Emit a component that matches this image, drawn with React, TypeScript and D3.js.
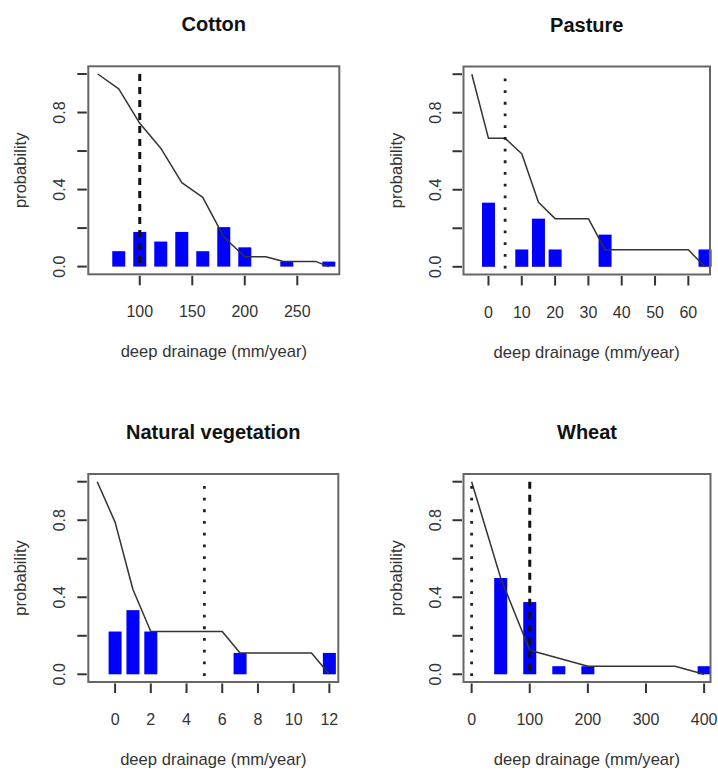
import React from "react";
import * as d3 from "d3";

// ---------- data ----------
const cottonBarX = [80, 100, 120, 140, 160, 180, 200, 240, 280];
const cottonBarP = [0.08, 0.18, 0.13, 0.18, 0.08, 0.205, 0.1, 0.026, 0.026];
const cottonLineX = [60, 80, 100, 120, 140, 160, 180, 200, 220, 237, 268, 280];
const cottonLineP = [1.0, 0.923, 0.744, 0.615, 0.436, 0.359, 0.154, 0.051, 0.051, 0.026, 0.026, 0.0];
const cottonTicks = [100, 150, 200, 250];

const pastureBarX = [0, 10, 15, 20, 35, 65];
const pastureBarP = [0.333, 0.09, 0.25, 0.09, 0.167, 0.09];
const pastureLineX = [-5, 0, 5, 10, 15, 20, 30, 35, 60, 65];
const pastureLineP = [1.0, 0.667, 0.667, 0.587, 0.335, 0.25, 0.25, 0.088, 0.088, 0.0];
const pastureTicks = [0, 10, 20, 30, 40, 50, 60];

const natvegBarX = [0, 1, 2, 7, 12];
const natvegBarP = [0.222, 0.333, 0.222, 0.111, 0.111];
const natvegLineX = [-1, 0, 1, 2, 6, 7, 11, 12];
const natvegLineP = [1.0, 0.79, 0.44, 0.222, 0.222, 0.111, 0.111, 0.0];
const natvegTicks = [0, 2, 4, 6, 8, 10, 12];

const wheatBarX = [50, 100, 150, 200, 400];
const wheatBarP = [0.5, 0.375, 0.042, 0.042, 0.042];
const wheatLineX = [0, 50, 100, 150, 200, 350, 400];
const wheatLineP = [1.0, 0.5, 0.125, 0.083, 0.042, 0.042, 0.0];
const wheatTicks = [0, 100, 200, 300, 400];

const yTicks = [0, 0.2, 0.4, 0.6, 0.8, 1.0];
const yTickLabels = ["0.0", "", "0.4", "", "0.8", ""];

const titles = ["Cotton", "Pasture", "Natural vegetation", "Wheat"];
const xLabel = "deep drainage (mm/year)";
const yLabel = "probability";

// reference lines: [x, type]
const cottonRefs: [number, string][] = [[100, "dashed"]];
const pastureRefs: [number, string][] = [[5, "dotted"]];
const natvegRefs: [number, string][] = [[5, "dotted"]];
const wheatRefs: [number, string][] = [[0, "dotted"], [100, "dashed"]];

// ---------- layout ----------
const FONT = "'Liberation Sans', Arial, Helvetica, sans-serif";
const BOX_H = 208;

type PanelDef = {
  title: string;
  left: number;
  top: number;
  width: number;
  xDomain: [number, number];
  ticks: number[];
  barX: number[];
  barP: number[];
  lineX: number[];
  lineP: number[];
  refs: [number, string][];
};

const panels: PanelDef[] = [
  { title: titles[0], left: 88.3, top: 66.3, width: 251, xDomain: [51, 290], ticks: cottonTicks, barX: cottonBarX, barP: cottonBarP, lineX: cottonLineX, lineP: cottonLineP, refs: cottonRefs },
  { title: titles[1], left: 463.5, top: 66.5, width: 246.5, xDomain: [-7.5, 66.5], ticks: pastureTicks, barX: pastureBarX, barP: pastureBarP, lineX: pastureLineX, lineP: pastureLineP, refs: pastureRefs },
  { title: titles[2], left: 88.3, top: 474, width: 250, xDomain: [-1.5, 12.5], ticks: natvegTicks, barX: natvegBarX, barP: natvegBarP, lineX: natvegLineX, lineP: natvegLineP, refs: natvegRefs },
  { title: titles[3], left: 463.5, top: 474, width: 247, xDomain: [-14, 411], ticks: wheatTicks, barX: wheatBarX, barP: wheatBarP, lineX: wheatLineX, lineP: wheatLineP, refs: wheatRefs },
];

function Panel({ p }: { p: PanelDef }) {
  const x = d3.scaleLinear().domain(p.xDomain).range([p.left, p.left + p.width]);
  const y = d3.scaleLinear().domain([-0.04, 1.04]).range([p.top + BOX_H, p.top]);
  const line = d3
    .line<number>()
    .x((_, i) => x(p.lineX[i]))
    .y((d) => y(d));
  const cx = p.left + p.width / 2;
  const cy = p.top + BOX_H / 2;
  const bottom = p.top + BOX_H;
  const barW = 13;
  return (
    <g>
      <text x={cx} y={p.top - 35} textAnchor="middle" fontFamily={FONT} fontWeight="bold" fontSize={20} fill="#111">
        {p.title}
      </text>
      {p.barX.map((bx, i) => (
        <rect key={"b" + i} x={x(bx) - barW / 2} y={y(p.barP[i])} width={barW} height={y(0) - y(p.barP[i])} fill="#0000ff" />
      ))}
      <path d={line(p.lineP) || ""} fill="none" stroke="#333" strokeWidth={1.5} strokeLinejoin="round" />
      {p.refs.map(([rx, type], i) =>
        type === "dashed" ? (
          <line key={"r" + i} x1={x(rx)} x2={x(rx)} y1={y(1)} y2={y(0)} stroke="#111" strokeWidth={3} strokeDasharray="7 6" />
        ) : (
          <line key={"r" + i} x1={x(rx)} x2={x(rx)} y1={y(0.978)} y2={y(0) + 2} stroke="#222" strokeWidth={2.8} strokeDasharray="2.8 8.9" />
        )
      )}
      <rect x={p.left} y={p.top} width={p.width} height={BOX_H} fill="none" stroke="#666" strokeWidth={2} />
      {yTicks.map((t, i) => (
        <g key={"y" + i}>
          <line x1={p.left - 11} x2={p.left - 1.5} y1={y(t)} y2={y(t)} stroke="#333" strokeWidth={2} />
          {yTickLabels[i] && (
            <text
              transform={`translate(${p.left - 23},${y(t)}) rotate(-90)`}
              textAnchor="middle"
              fontFamily={FONT}
              fontSize={16}
              fill="#333"
            >
              {yTickLabels[i]}
            </text>
          )}
        </g>
      ))}
      {p.ticks.map((t, i) => (
        <g key={"x" + i}>
          <line x1={x(t)} x2={x(t)} y1={bottom + 1.5} y2={bottom + 11} stroke="#333" strokeWidth={2} />
          <text x={x(t)} y={bottom + 43} textAnchor="middle" fontFamily={FONT} fontSize={16} fill="#333">
            {d3.format("d")(t)}
          </text>
        </g>
      ))}
      <text x={cx} y={bottom + 83} textAnchor="middle" fontFamily={FONT} fontSize={16.6} fill="#333">
        {xLabel}
      </text>
      <text transform={`translate(${p.left - 62},${cy}) rotate(-90)`} textAnchor="middle" fontFamily={FONT} fontSize={16.6} fill="#333">
        {yLabel}
      </text>
    </g>
  );
}

export default function App() {
  return (
    <svg
      width={718}
      height={774}
      viewBox="0 0 718 774"
      style={{ position: "absolute", left: 0, top: 0, background: "#fff" }}
    >
      <rect x={0} y={0} width={718} height={774} fill="#fff" />
      {panels.map((p, i) => (
        <Panel key={i} p={p} />
      ))}
    </svg>
  );
}
